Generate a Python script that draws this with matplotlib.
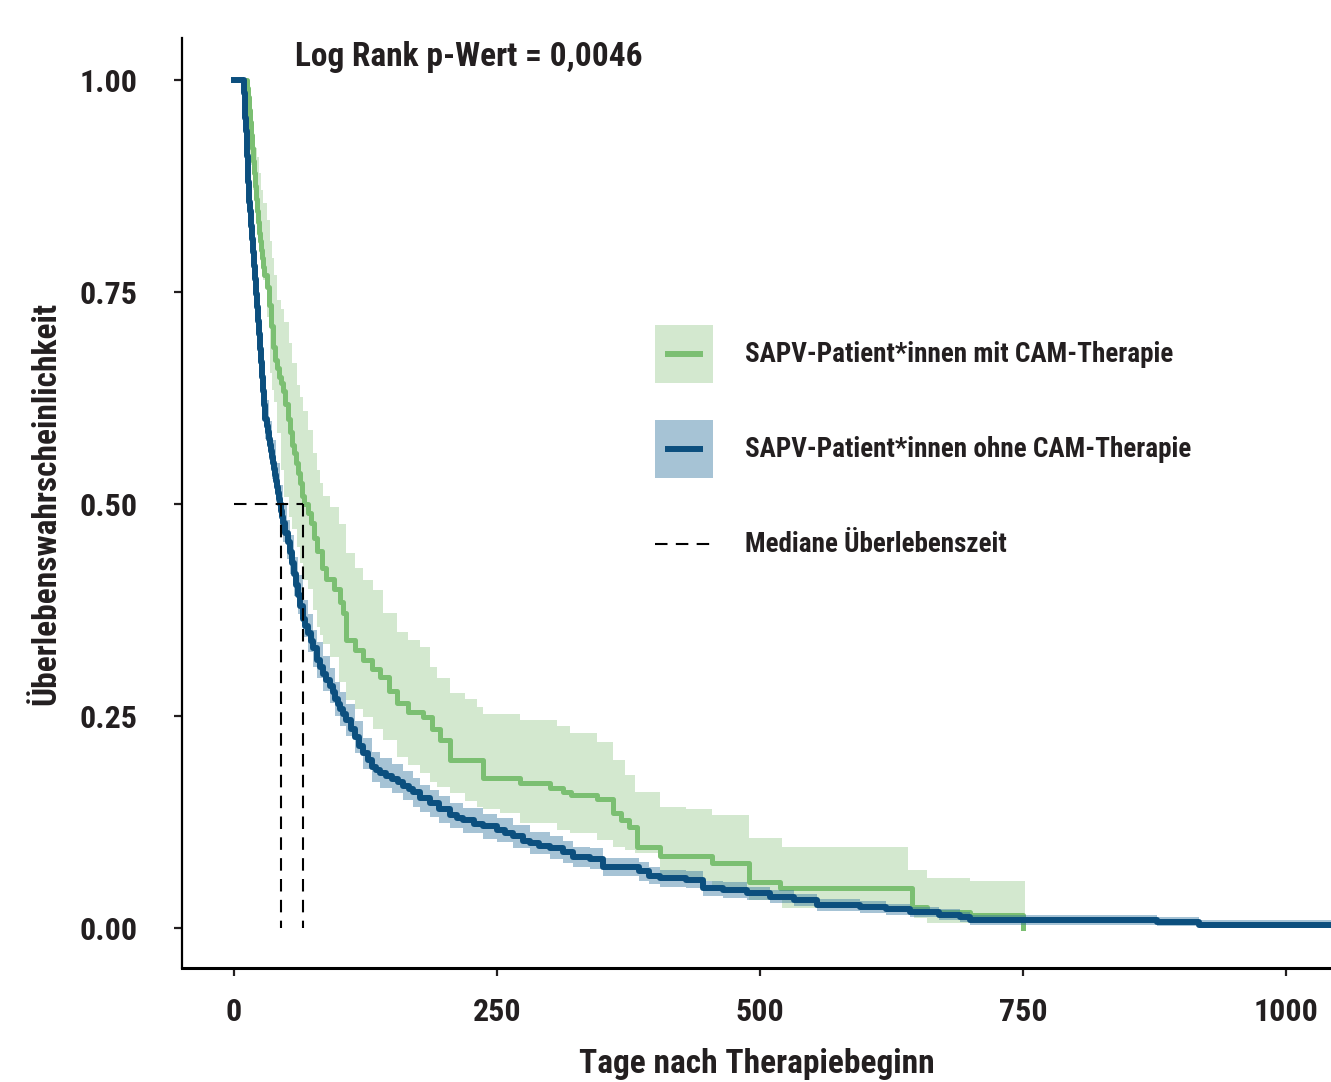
import matplotlib
matplotlib.use("Agg")
import matplotlib.pyplot as plt
from matplotlib.patches import Patch
from matplotlib.lines import Line2D
from matplotlib.legend_handler import HandlerLine2D
from matplotlib.ticker import FormatStrFormatter

plt.rcParams['font.family'] = ['Roboto Condensed', 'Lato', 'DejaVu Sans']
plt.rcParams['font.weight'] = 'bold'

# Kaplan-Meier: SAPV-Patient*innen ohne CAM-Therapie (blau)
blue_t = [0, 10, 10.5, 11, 11.5, 12, 12.5, 13, 13.5, 14, 14.5, 15, 16, 17, 18, 19, 20, 21, 22, 23,
          24, 25, 26, 27, 28, 29, 30, 31, 32, 33, 34, 35, 36, 37, 38, 39, 40, 41, 42, 43,
          44, 45, 46, 47, 49, 51, 53, 55, 57, 59, 61, 63, 66, 68, 70, 73, 75, 79, 82, 85,
          88, 91, 94, 96, 99, 101, 104, 107, 111, 115, 119, 123, 127, 131, 135, 139, 145, 150, 156, 161,
          166, 170, 177, 186, 195, 205, 212, 218, 228, 237, 250, 258, 265, 275, 281, 290, 300, 313, 322, 338,
          351, 385, 395, 405, 430, 446, 465, 488, 510, 532, 554, 595, 620, 643, 670, 690, 700, 877, 917, 1045]
blue_s = [1.0, 0.985, 0.97, 0.955, 0.94, 0.925, 0.91, 0.895, 0.88, 0.868, 0.856, 0.845, 0.828, 0.812, 0.797, 0.781, 0.765, 0.748, 0.732, 0.716,
          0.70, 0.683, 0.667, 0.65, 0.633, 0.617, 0.60, 0.592, 0.585, 0.577, 0.57, 0.562, 0.555, 0.548, 0.541, 0.534, 0.527, 0.52, 0.513, 0.506,
          0.50, 0.492, 0.485, 0.478, 0.466, 0.455, 0.443, 0.43, 0.417, 0.405, 0.393, 0.38, 0.365, 0.356, 0.348, 0.338, 0.33, 0.316, 0.308, 0.30,
          0.293, 0.286, 0.278, 0.27, 0.264, 0.258, 0.252, 0.245, 0.235, 0.225, 0.215, 0.206, 0.198, 0.19, 0.186, 0.183, 0.179, 0.176, 0.172, 0.168,
          0.164, 0.16, 0.153, 0.147, 0.14, 0.133, 0.13, 0.127, 0.123, 0.12, 0.116, 0.112, 0.108, 0.103, 0.10, 0.097, 0.095, 0.09, 0.084, 0.082,
          0.072, 0.067, 0.062, 0.059, 0.057, 0.047, 0.045, 0.041, 0.037, 0.033, 0.027, 0.025, 0.022, 0.019, 0.016, 0.013, 0.0095, 0.007, 0.004, 0.004]

blue_band_t = [0, 10, 11, 12, 13, 14, 15, 17, 19, 20, 22, 24, 26, 28, 30, 33, 36, 40, 44, 47,
               50, 53, 57, 61, 66, 70, 75, 79, 85, 91, 96, 101, 107, 115, 123, 131, 139, 150, 161, 170,
               177, 186, 195, 205, 218, 237, 250, 265, 281, 300, 313, 322, 338, 351, 385, 395, 405, 430, 446, 465,
               488, 510, 532, 554, 595, 620, 643, 670, 690, 700, 877, 917, 1045]
blue_lo = [1.0, 0.96, 0.935, 0.905, 0.873, 0.847, 0.826, 0.79, 0.76, 0.744, 0.713, 0.678, 0.642, 0.607, 0.577, 0.552, 0.53, 0.502, 0.477, 0.455,
           0.435, 0.417, 0.392, 0.37, 0.343, 0.326, 0.308, 0.295, 0.279, 0.265, 0.25, 0.238, 0.226, 0.206, 0.188, 0.172, 0.165, 0.159, 0.151, 0.143,
           0.137, 0.131, 0.124, 0.118, 0.112, 0.105, 0.102, 0.094, 0.087, 0.082, 0.077, 0.072, 0.07, 0.061, 0.056, 0.052, 0.049, 0.047, 0.038, 0.036,
           0.033, 0.029, 0.026, 0.02, 0.018, 0.016, 0.013, 0.01, 0.007, 0.004, 0.002, 0.0, 0.0]
blue_hi = [1.0, 0.98, 0.965, 0.935, 0.907, 0.883, 0.864, 0.83, 0.80, 0.786, 0.757, 0.722, 0.688, 0.653, 0.623, 0.598, 0.576, 0.548, 0.523, 0.501,
           0.481, 0.463, 0.438, 0.416, 0.387, 0.37, 0.352, 0.337, 0.321, 0.307, 0.29, 0.278, 0.264, 0.244, 0.224, 0.208, 0.201, 0.193, 0.185, 0.177,
           0.169, 0.163, 0.156, 0.148, 0.142, 0.135, 0.13, 0.122, 0.113, 0.108, 0.103, 0.096, 0.094, 0.083, 0.078, 0.072, 0.069, 0.067, 0.056, 0.054,
           0.049, 0.045, 0.04, 0.034, 0.032, 0.028, 0.025, 0.022, 0.019, 0.016, 0.013, 0.009, 0.009]

# Kaplan-Meier: SAPV-Patient*innen mit CAM-Therapie (gruen)
green_t = [0, 12, 13, 14, 15, 16, 17, 18, 19, 20, 21, 22, 23, 24, 25, 26, 27, 28, 29, 31,
           33, 35, 37, 39, 41, 43, 45, 47, 49, 51, 53, 55, 57, 59, 61, 63, 65, 67, 70, 73,
           76, 79, 84, 88, 95, 101, 104, 107, 115, 123, 131, 139, 147, 155, 165, 180, 188, 196, 205, 237,
           272, 300, 313, 320, 345, 360, 368, 376, 383, 405, 454, 490, 519, 645, 659, 700, 750]
green_s = [1.0, 0.99, 0.98, 0.965, 0.95, 0.935, 0.92, 0.905, 0.89, 0.875, 0.86, 0.845, 0.832, 0.82, 0.81, 0.80, 0.79, 0.78, 0.77, 0.756,
           0.735, 0.71, 0.685, 0.67, 0.66, 0.65, 0.643, 0.633, 0.618, 0.60, 0.585, 0.57, 0.56, 0.548, 0.537, 0.525, 0.51, 0.50, 0.49, 0.478,
           0.46, 0.445, 0.425, 0.412, 0.40, 0.385, 0.371, 0.34, 0.328, 0.316, 0.305, 0.296, 0.28, 0.265, 0.255, 0.249, 0.235, 0.222, 0.198, 0.177,
           0.171, 0.165, 0.16, 0.157, 0.152, 0.136, 0.127, 0.119, 0.096, 0.085, 0.0765, 0.054, 0.047, 0.025, 0.019, 0.015, 0.0]

green_band_t = [0, 12, 15, 18, 20, 22, 24, 26, 28, 31, 34, 36, 38, 41, 45, 48, 52, 55, 60, 63,
                66, 70, 75, 79, 82, 85, 91, 100, 107, 115, 123, 132, 142, 155, 165, 177, 186, 193, 205, 220,
                231, 237, 253, 272, 307, 319, 345, 360, 372, 381, 405, 430, 454, 490, 521, 641, 646, 659, 700, 752]
green_hi = [1.0, 1.0, 0.961, 0.935, 0.92, 0.909, 0.89, 0.87, 0.855, 0.835, 0.81, 0.79, 0.77, 0.74, 0.73, 0.715, 0.69, 0.666, 0.64, 0.626,
            0.61, 0.587, 0.56, 0.54, 0.525, 0.51, 0.496, 0.477, 0.442, 0.425, 0.41, 0.399, 0.371, 0.349, 0.34, 0.331, 0.308, 0.295, 0.277, 0.27,
            0.261, 0.253, 0.253, 0.245, 0.238, 0.23, 0.219, 0.198, 0.18, 0.16, 0.143, 0.14, 0.133, 0.106, 0.0955, 0.068, 0.068, 0.059, 0.055, 0.053]
green_lo = [1.0, 0.97, 0.9, 0.87, 0.85, 0.825, 0.80, 0.78, 0.764, 0.72, 0.654, 0.635, 0.62, 0.584, 0.54, 0.508, 0.485, 0.47, 0.449, 0.43,
            0.41, 0.40, 0.375, 0.355, 0.345, 0.335, 0.32, 0.29, 0.269, 0.258, 0.249, 0.235, 0.222, 0.202, 0.192, 0.183, 0.172, 0.166, 0.159, 0.15,
            0.143, 0.14, 0.136, 0.124, 0.116, 0.112, 0.104, 0.096, 0.092, 0.088, 0.0625, 0.055, 0.048, 0.033, 0.0236, 0.0236, 0.012, 0.006, 0.006, 0.006]

median_days = [44.7, 65.6]   # ohne / mit CAM
labels = ["SAPV-Patient*innen mit CAM-Therapie", "SAPV-Patient*innen ohne CAM-Therapie", "Mediane Überlebenszeit"]

green_line = "#7bbf72"
green_fill = "#d3e8cf"
blue_line = "#0c4f7e"
blue_fill = "#31749e"
ink = "#231f20"


class CenteredLine(HandlerLine2D):
    # Linie mittig im Legendenkaestchen
    def create_artists(self, legend, orig_handle, xdescent, ydescent, width, height, fontsize, trans):
        arts = super().create_artists(legend, orig_handle, xdescent, ydescent, width, height, fontsize, trans)
        for a in arts:
            a.set_ydata([height / 2 - ydescent] * len(a.get_xdata()))
        return arts


fig = plt.figure(figsize=(13.31, 10.82), dpi=100)
ax = fig.add_axes([0.1367, 0.1054, 0.8633, 0.8595])

ax.fill_between(green_band_t, green_lo, green_hi, step="post", color=green_fill, lw=0, zorder=1)
ax.step(green_t, green_s, where="post", color=green_line, lw=3.6, zorder=2)
ax.fill_between(blue_band_t, blue_lo, blue_hi, step="post", color=blue_fill, alpha=0.43, lw=0, zorder=3)
ax.step(blue_t, blue_s, where="post", color=blue_line, lw=4.3, zorder=4)

# Mediane
ax.plot([0, max(median_days)], [0.5, 0.5], color="black", lw=1.5, dashes=(6, 4), zorder=5)
for m in median_days:
    ax.plot([m, m], [0.5, 0.0], color="black", lw=1.5, dashes=(6, 4), zorder=5)

ax.set_xlim(-49.4, 1042.8)
ax.set_ylim(-0.047, 1.0495)
ax.set_xticks([0, 250, 500, 750, 1000])
ax.set_yticks([0, 0.25, 0.5, 0.75, 1.0])
ax.yaxis.set_major_formatter(FormatStrFormatter('%.2f'))

for s in ["top", "right"]:
    ax.spines[s].set_visible(False)
ax.spines["left"].set_linewidth(1.6)
ax.spines["bottom"].set_linewidth(2.2)
ax.tick_params(axis="both", direction="out", length=6, width=1.6, labelsize=23, colors=ink)
ax.tick_params(axis="y", pad=26)
ax.tick_params(axis="x", pad=15)

ax.set_xlabel("Tage nach Therapiebeginn", fontsize=24, fontweight="bold", color=ink)
ax.set_ylabel("Überlebenswahrscheinlichkeit", fontsize=24, fontweight="bold", color=ink)
ax.xaxis.set_label_coords(0.5, -0.086)
ax.yaxis.set_label_coords(-0.1044, 0.5)

ax.text(58, 1.027, "Log Rank p-Wert = 0,0046", fontsize=24, fontweight="bold", color=ink,
        va="center", ha="left", clip_on=False)

h_green = (Patch(facecolor=green_fill, edgecolor="none"),
           Line2D([], [], color=green_line, marker="_", ls="none", markersize=27, markeredgewidth=4.3))
h_blue = (Patch(facecolor=blue_fill, alpha=0.43, edgecolor="none"),
          Line2D([], [], color=blue_line, marker="_", ls="none", markersize=27, markeredgewidth=4.3))
h_med = Line2D([], [], color="black", lw=1.5, dashes=(6, 4))
leg = ax.legend([h_green, h_blue, h_med], labels, loc="upper left", bbox_to_anchor=(0.4117, 0.6914),
                frameon=False, borderpad=0, borderaxespad=0, numpoints=1,
                handlelength=2.15, handleheight=2.92, handletextpad=1.18, labelspacing=1.37,
                handler_map={Line2D: CenteredLine(numpoints=1)},
                prop={"size": 19.5, "weight": "bold"})
for t in leg.get_texts():
    t.set_color(ink)

fig.savefig("out.png", dpi=100)
